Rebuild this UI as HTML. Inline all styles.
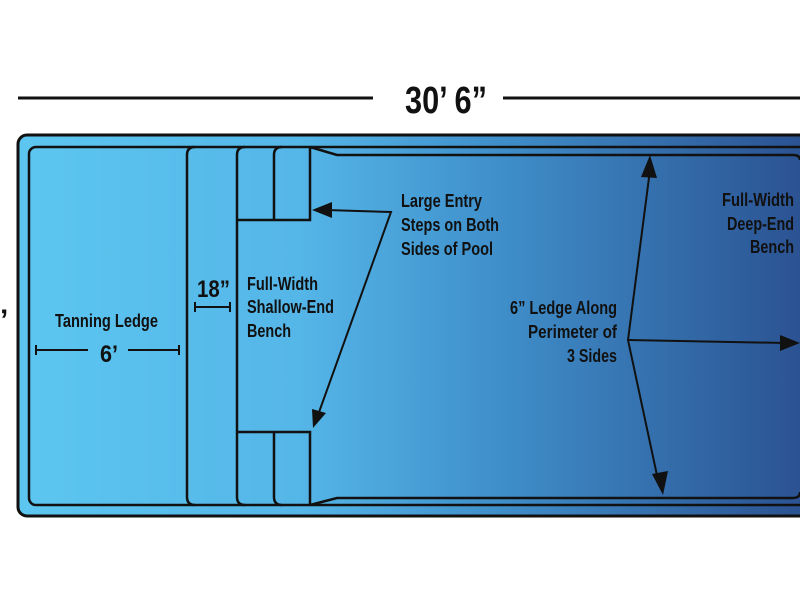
<!DOCTYPE html>
<html><head><style>
body{margin:0;background:#fff;width:800px;height:600px;overflow:hidden}
svg text{font-family:"Liberation Sans",sans-serif;font-weight:bold;fill:#111}
</style></head><body>
<svg width="800" height="600" viewBox="0 0 800 600">
<defs>
<linearGradient id="g" x1="0" x2="1" y1="0" y2="0">
<stop offset="0" stop-color="#5cc6f0"/>
<stop offset="0.35" stop-color="#55b6e8"/>
<stop offset="0.6" stop-color="#3f8fca"/>
<stop offset="1" stop-color="#2a4f8f"/>
</linearGradient>
</defs>
<line x1="18" y1="98" x2="373" y2="98" stroke="#111" stroke-width="3"/>
<line x1="503" y1="98" x2="800" y2="98" stroke="#111" stroke-width="3"/>
<text x="405" y="113" font-size="38" textLength="82" lengthAdjust="spacingAndGlyphs">30’ 6”</text>
<text x="0" y="330" font-size="30">’</text>
<rect x="18" y="135" width="800" height="381" rx="9" fill="url(#g)" stroke="#111" stroke-width="3"/>
<g fill="none" stroke="#111" stroke-width="2.5">
<rect x="29" y="147" width="790" height="358" rx="7"/>
<path d="M195 147 Q187 147 187 155 V497 Q187 505 195 505"/>
<path d="M245 147 Q237 147 237 155 V497 Q237 505 245 505"/>
<path d="M282 147 Q274 147 274 155 V220"/>
<path d="M282 505 Q274 505 274 497 V432"/>
<path d="M237 220 H310 V147"/>
<path d="M237 432 H310 V505"/>
<path d="M310 147 L337 155 H793 Q800 155 800 160"/>
<path d="M310 505 L337 498 H793 Q800 498 800 492"/>
</g>
<g stroke="#111" stroke-width="2">
<line x1="36" y1="350" x2="88" y2="350"/><line x1="36" y1="345" x2="36" y2="355"/>
<line x1="128" y1="350" x2="179" y2="350"/><line x1="179" y1="345" x2="179" y2="355"/>
<line x1="195" y1="307" x2="230" y2="307"/><line x1="195" y1="302" x2="195" y2="312"/><line x1="230" y1="302" x2="230" y2="312"/>
<polyline fill="none" points="326,210 391,212 318,415"/>
<polyline fill="none" points="650,170 628,340 658,480"/>
<line x1="628" y1="340" x2="785" y2="343"/>
</g>
<g fill="#111">
<polygon points="312,210 332,202 332,218"/>
<polygon points="313,428 312,409 326,413"/>
<polygon points="650,155 641,177 657,178"/>
<polygon points="663,495 652,474 668,471"/>
<polygon points="800,343 780,335 780,351"/>
</g>
<g font-size="18" lengthAdjust="spacingAndGlyphs">
<text x="55" y="327" textLength="103" lengthAdjust="spacingAndGlyphs">Tanning Ledge</text>
<text x="100" y="362" font-size="24" textLength="18" lengthAdjust="spacingAndGlyphs">6’</text>
<text x="197" y="297" font-size="24" textLength="33" lengthAdjust="spacingAndGlyphs">18”</text>
<text x="247" y="290" textLength="71" lengthAdjust="spacingAndGlyphs">Full-Width</text>
<text x="247" y="313" textLength="87" lengthAdjust="spacingAndGlyphs">Shallow-End</text>
<text x="247" y="337" textLength="44" lengthAdjust="spacingAndGlyphs">Bench</text>
<text x="401" y="207" textLength="81" lengthAdjust="spacingAndGlyphs">Large Entry</text>
<text x="401" y="231" textLength="98" lengthAdjust="spacingAndGlyphs">Steps on Both</text>
<text x="401" y="255" textLength="92" lengthAdjust="spacingAndGlyphs">Sides of Pool</text>
<text x="510" y="314" textLength="107" lengthAdjust="spacingAndGlyphs">6” Ledge Along</text>
<text x="528" y="338" textLength="89" lengthAdjust="spacingAndGlyphs">Perimeter of</text>
<text x="567" y="362" textLength="50" lengthAdjust="spacingAndGlyphs">3 Sides</text>
<text x="722" y="206" textLength="72" lengthAdjust="spacingAndGlyphs">Full-Width</text>
<text x="727" y="230" textLength="67" lengthAdjust="spacingAndGlyphs">Deep-End</text>
<text x="750" y="253" textLength="44" lengthAdjust="spacingAndGlyphs">Bench</text>
</g>
</svg>
</body></html>
